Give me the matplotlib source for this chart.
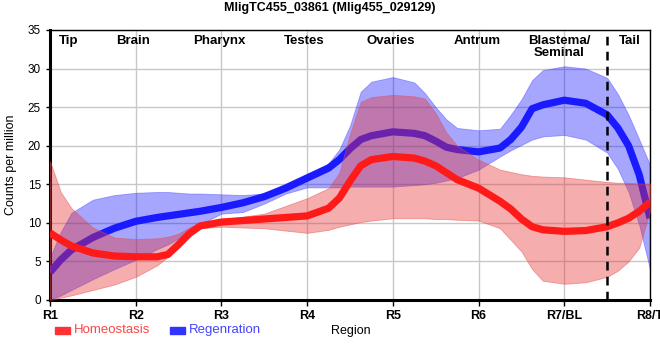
import matplotlib
matplotlib.use("Agg")
import matplotlib.pyplot as plt
from matplotlib.patches import Rectangle

plt.rcParams["font.family"] = ["Liberation Sans", "DejaVu Sans"]

# --- Data (counts per million along the body regions) ---
x = [1.0, 1.125, 1.25, 1.5, 1.75, 2.0, 2.25, 2.375, 2.5, 2.625, 2.75, 3.0, 3.25, 3.5,
     3.75, 4.0, 4.25, 4.375, 4.5, 4.625, 4.75, 5.0, 5.25, 5.375, 5.5, 5.625, 5.75,
     6.0, 6.25, 6.375, 6.5, 6.625, 6.75, 7.0, 7.25, 7.5, 7.625, 7.75, 7.875, 8.0]

hom_mean = [8.7, 7.8, 7.0, 6.1, 5.7, 5.6, 5.6, 5.9, 7.2, 8.6, 9.6, 10.1, 10.3, 10.5,
            10.7, 10.9, 11.9, 13.2, 15.4, 17.4, 18.2, 18.6, 18.4, 18.0, 17.4, 16.5, 15.6,
            14.5, 12.8, 11.8, 10.5, 9.5, 9.1, 8.9, 9.0, 9.5, 10.0, 10.6, 11.5, 12.7]
hom_upper = [18.0, 14.0, 11.9, 9.4, 8.1, 7.9, 8.0, 8.2, 8.6, 9.4, 10.0, 10.4, 10.8, 11.2,
             12.2, 13.2, 14.5, 16.5, 21.5, 25.7, 26.3, 26.6, 26.4, 26.1, 24.2, 21.7, 20.0,
             18.2, 16.9, 16.6, 16.3, 16.1, 16.0, 15.9, 15.6, 15.3, 15.2, 15.2, 15.1, 15.1]
hom_lower = [0.0, 0.3, 0.6, 1.3, 2.0, 3.0, 4.5, 5.6, 6.8, 8.3, 9.3, 9.5, 9.4, 9.3,
             9.0, 8.7, 9.1, 9.5, 9.8, 10.1, 10.3, 10.6, 10.6, 10.6, 10.5, 10.5, 10.4,
             10.3, 9.3, 7.8, 6.3, 4.0, 2.5, 2.1, 2.3, 3.0, 3.8, 5.0, 6.8, 11.5]

reg_mean = [3.6, 5.2, 6.5, 8.1, 9.3, 10.2, 10.7, 10.9, 11.1, 11.3, 11.5, 12.0, 12.6, 13.4,
            14.5, 15.8, 17.1, 18.2, 19.6, 20.8, 21.3, 21.8, 21.6, 21.3, 20.6, 19.8, 19.5,
            19.2, 19.7, 20.8, 22.4, 24.8, 25.3, 25.9, 25.5, 24.0, 22.3, 20.0, 16.2, 10.6]
reg_upper = [5.5, 8.8, 11.3, 13.0, 13.6, 13.9, 14.0, 14.0, 13.9, 13.8, 13.8, 13.7, 13.6, 13.8,
             15.1, 16.4, 17.7, 19.5, 22.6, 27.0, 28.3, 28.9, 28.2, 26.8, 25.0, 23.4, 22.3,
             22.0, 22.2, 24.0, 26.0, 28.5, 29.8, 30.3, 30.0, 28.8, 26.7, 24.0, 20.8, 17.5]
reg_lower = [0.0, 0.6, 1.3, 2.7, 4.0, 5.2, 6.6, 7.2, 8.0, 8.9, 9.8, 11.2, 11.4, 12.5,
             13.8, 14.6, 14.6, 14.6, 14.7, 14.7, 14.7, 14.7, 14.9, 15.0, 15.2, 15.5, 15.8,
             16.9, 18.6, 19.4, 20.1, 20.8, 21.2, 21.4, 20.8, 19.1, 17.0, 14.0, 9.7, 4.0]

tick_pos = [1, 2, 3, 4, 5, 6, 7, 8]
tick_labels = ["R1", "R2", "R3", "R4", "R5", "R6", "R7/BL", "R8/T"]

region_pos = [1.22, 1.97, 2.98, 3.97, 4.97, 5.98, 6.94, 7.77]
region_names = ["Tip", "Brain", "Pharynx", "Testes", "Ovaries", "Antrum",
                "Blastema/\nSeminal", "Tail"]

RED = "#ff1a1a"
BLUE = "#1a1aff"

fig = plt.figure(figsize=(6.6, 3.6), dpi=100)
ax = fig.add_axes([50 / 660, 60 / 360, 600 / 660, 270 / 360])

# --- Bands and mean lines (order gives the purple overlaps) ---
ax.fill_between(x, reg_lower, reg_upper, color=(0.0, 0.0, 1.0, 0.35),
                edgecolor=(0.3, 0.3, 1.0, 0.5), linewidth=0.6, zorder=2)
ax.plot(x, reg_mean, color=BLUE, linewidth=5.2, solid_capstyle="butt",
        solid_joinstyle="round", zorder=3)
ax.fill_between(x, hom_lower, hom_upper, color=(0.9, 0.2, 0.2, 0.4),
                edgecolor=(0.9, 0.3, 0.3, 0.5), linewidth=0.6, zorder=4)
ax.plot(x, hom_mean, color=RED, linewidth=5.2, solid_capstyle="butt",
        solid_joinstyle="round", zorder=5)

# --- Tail boundary ---
ax.axvline(7.5, color="black", linewidth=1.8, linestyle=(0, (3.5, 2.5)), zorder=6)

# --- Axes ---
ax.set_xlim(1, 8)
ax.set_ylim(0, 35)
ax.set_xticks(tick_pos)
ax.set_xticklabels(tick_labels, fontsize=9, fontweight="bold")
ax.set_yticks(range(0, 36, 5))
ax.tick_params(axis="y", labelsize=8.5, length=3, width=1)
ax.tick_params(axis="x", length=4, width=1, pad=3)
ax.grid(True, color="#c8c8c8", linewidth=1.0, zorder=0)
ax.set_axisbelow(True)
for side in ["left", "bottom"]:
    ax.spines[side].set_linewidth(2.2)
for side in ["top", "right"]:
    ax.spines[side].set_linewidth(1.0)

ax.set_ylabel("Counts per million", fontsize=9, labelpad=8)

for xp, name in zip(region_pos, region_names):
    ax.text(xp, 34.3, name, ha="center", va="top", fontsize=9.5,
            fontweight="bold", linespacing=1.0, zorder=7)

fig.text(330 / 660, 1 - 8 / 360, "MligTC455_03861 (Mlig455_029129)",
         ha="center", va="center", fontsize=9, fontweight="bold")

# --- Legend drawn in figure pixels ---
fig.patches.append(Rectangle((55 / 660, 1 - 334 / 360), 15 / 660, 7 / 360,
                             transform=fig.transFigure, color="#ff3333"))
fig.text(74 / 660, 1 - 330 / 360, "Homeostasis", color="#ff4444",
         fontsize=9.5, va="center")
fig.patches.append(Rectangle((170 / 660, 1 - 334 / 360), 15 / 660, 7 / 360,
                             transform=fig.transFigure, color="#3333ff"))
fig.text(189 / 660, 1 - 330 / 360, "Regenration", color="#4444ff",
         fontsize=9.5, va="center")
fig.text(331 / 660, 1 - 331 / 360, "Region", color="black", fontsize=9, va="center")

fig.savefig("out.png", dpi=100)
